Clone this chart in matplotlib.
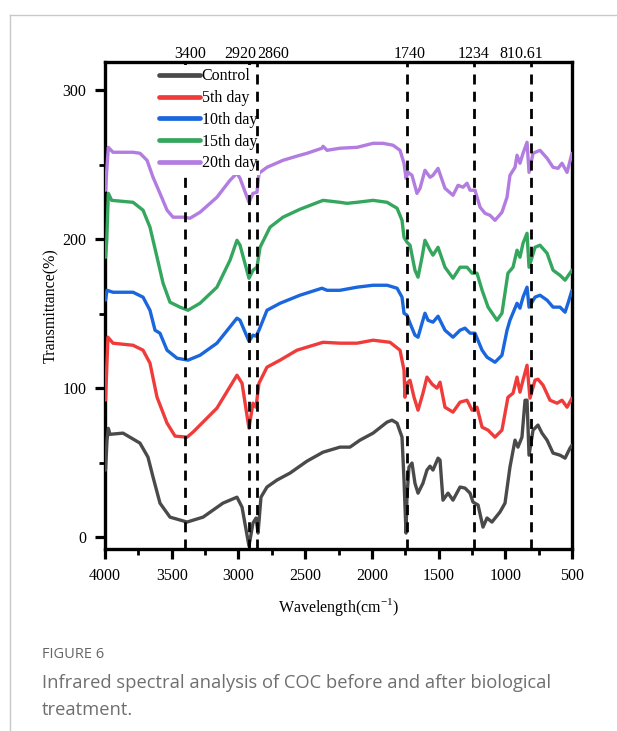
import matplotlib
matplotlib.use("Agg")
import matplotlib.pyplot as plt
from matplotlib.lines import Line2D
from matplotlib.ticker import MultipleLocator

# ---------------- data ----------------
control_w = [3996, 3985, 3975, 3963, 3865, 3738, 3678, 3640, 3588, 3513, 3385, 3265, 3116, 3011, 2973,
             2921, 2891, 2868, 2853, 2831, 2786, 2711, 2613, 2486, 2366, 2239, 2164, 2089, 1991, 1886,
             1849, 1811, 1774, 1759, 1744, 1737, 1722, 1699, 1677, 1654, 1617, 1587, 1564, 1542, 1504,
             1489, 1467, 1429, 1392, 1339, 1302, 1264, 1242, 1204, 1167, 1137, 1100, 1040, 1002, 965,
             927, 905, 875, 852, 837, 822, 792, 755, 725, 687, 642, 590, 552, 515, 500]
control_t = [45, 65, 73, 69, 69.8, 63.1, 53.7, 40.3, 22.8, 13.4, 10.1, 13.4, 22.8, 26.8, 20.1,
             -6, 9.4, 12.8, 2.7, 26.8, 33.6, 38.3, 43.0, 51.0, 57.0, 60.4, 60.4, 65.1, 69.8, 77.2,
             78.5, 76.5, 67.1, 38.3, 2.7, 26.8, 47.0, 49.7, 36.2, 29.5, 36.2, 45.0, 47.6, 45.0, 53.0,
             51.7, 24.8, 29.5, 24.8, 33.6, 32.9, 29.5, 23.5, 21.5, 6.7, 12.8, 10.1, 16.8, 22.8, 47.0,
             65.1, 60.4, 67.1, 91.9, 91.9, 55.0, 71.8, 75.2, 69.8, 65.1, 56.4, 55.0, 53.0, 59.7, 61.7]

day5_w = [3996, 3978, 3940, 3790, 3715, 3663, 3610, 3535, 3475, 3385, 3340, 3161, 3011, 2973, 2921,
          2891, 2868, 2846, 2786, 2688, 2561, 2366, 2239, 2111, 1991, 1864, 1789, 1759, 1752, 1737,
          1714, 1684, 1654, 1617, 1587, 1549, 1512, 1489, 1452, 1392, 1339, 1287, 1249, 1212, 1174,
          1129, 1077, 1025, 980, 942, 912, 890, 867, 837, 815, 777, 755, 717, 665, 612, 575, 537, 500]
day5_t = [92, 134.2, 130.2, 128.8, 125.5, 116.8, 93.9, 76.5, 67.8, 67.1, 70.5, 86.6, 108.7, 103.3, 73.1,
          89.9, 87.2, 103.3, 114.1, 118.8, 125.5, 130.8, 130.2, 130.2, 132.2, 130.8, 125.5, 112.1, 93.9, 103.3,
          105.3, 93.9, 85.2, 96.6, 107.4, 102.7, 100.0, 104.0, 87.2, 83.9, 90.6, 91.9, 85.2, 87.2, 73.8,
          71.8, 67.1, 71.8, 93.9, 96.6, 107.4, 97.3, 105.4, 115.4, 93.3, 105.4, 106.0, 102.0, 91.9, 89.9, 91.9, 87.2, 93.3]

day10_w = [3996, 3985, 3940, 3790, 3715, 3663, 3625, 3588, 3535, 3460, 3378, 3288, 3161, 3011, 2988,
           2921, 2891, 2868, 2846, 2786, 2688, 2539, 2374, 2336, 2239, 2111, 1991, 1886, 1811, 1774,
           1759, 1737, 1714, 1677, 1654, 1624, 1602, 1579, 1542, 1504, 1452, 1392, 1339, 1302, 1264,
           1227, 1174, 1137, 1077, 1025, 987, 965, 912, 890, 867, 837, 822, 777, 740, 687, 642, 590, 552, 530, 500]
day10_t = [159.1, 165.7, 164.4, 164.4, 161.1, 152.3, 138.9, 136.9, 125.5, 120.1, 118.8, 122.1, 130.2, 147.0, 145.6,
           131.5, 135.6, 134.9, 138.9, 152.3, 157.0, 162.4, 167.1, 165.7, 165.7, 167.8, 169.1, 169.1, 167.1, 161.1,
           150.3, 149.0, 143.6, 135.6, 134.2, 143.6, 150.3, 145.6, 144.3, 148.3, 138.9, 134.2, 138.9, 140.3, 136.9,
           136.9, 125.5, 120.8, 117.4, 122.1, 138.9, 145.6, 157.0, 153.7, 161.1, 167.8, 154.4, 161.1, 162.4, 159.1, 154.4, 154.4, 151.0, 157.0, 165.7]

day15_w = [3996, 3987, 3975, 3950, 3790, 3715, 3663, 3610, 3565, 3513, 3438, 3378, 3288, 3161, 3063,
           3011, 2988, 2921, 2891, 2861, 2838, 2763, 2666, 2539, 2366, 2239, 2186, 2111, 1991, 1886,
           1811, 1774, 1759, 1737, 1714, 1677, 1654, 1624, 1602, 1564, 1542, 1504, 1452, 1392, 1339,
           1287, 1249, 1212, 1174, 1129, 1062, 1025, 980, 942, 912, 890, 867, 837, 822, 777, 740, 687, 642, 590, 552, 500]
day15_t = [187.9, 199, 230.8, 226.1, 224.8, 219.5, 208.1, 187.9, 170.5, 157.7, 154.4, 152.3, 157.0, 167.8, 185.9,
           199.3, 196.0, 173.8, 179.2, 181.2, 194.6, 208.1, 214.8, 220.1, 226.1, 224.8, 224.1, 224.8, 226.1, 224.8,
           220.8, 212.7, 201.3, 198.0, 196.0, 179.2, 174.5, 187.9, 199.3, 192.6, 189.3, 194.6, 181.2, 173.8, 181.2,
           181.2, 177.2, 177.2, 165.8, 154.4, 145.6, 150.3, 177.2, 181.2, 192.6, 187.9, 197.3, 204.0, 181.2, 194.6, 196.0, 190.6, 179.2, 175.8, 172.5, 179.2]

day20_w = [3996, 3987, 3975, 3940, 3790, 3738, 3685, 3640, 3588, 3535, 3490, 3415, 3363, 3288, 3161,
           3063, 3011, 2988, 2921, 2891, 2861, 2846, 2786, 2666, 2539, 2486, 2374, 2366, 2336, 2239,
           2111, 1991, 1916, 1841, 1789, 1759, 1744, 1729, 1699, 1662, 1639, 1602, 1564, 1542, 1504,
           1452, 1392, 1354, 1317, 1287, 1264, 1227, 1189, 1152, 1115, 1077, 1025, 987, 965, 927,
           912, 890, 867, 837, 822, 792, 740, 687, 642, 605, 575, 537, 500]
day20_t = [232.9, 246, 261.7, 258.4, 258.4, 257.7, 253.0, 241.6, 230.8, 219.5, 214.8, 214.8, 214.1, 218.1, 228.2,
           239.6, 244.3, 240.9, 224.8, 230.8, 231.5, 244.3, 248.3, 253.0, 256.4, 257.7, 261.1, 262.4, 259.7, 261.1,
           261.7, 264.4, 264.4, 263.1, 259.7, 251.0, 240.9, 244.9, 242.9, 230.8, 234.2, 246.3, 241.6, 242.9, 247.6,
           234.2, 229.5, 236.2, 234.9, 237.6, 232.9, 232.9, 221.5, 217.4, 216.1, 212.7, 218.1, 228.2, 242.9, 248.3,
           256.4, 251.0, 257.7, 265.1, 244.9, 257.7, 259.7, 254.4, 248.3, 247.6, 251.0, 244.9, 257.7]

series_labels = ["Control", "5th day", "10th day", "15th day", "20th day"]
series_colors = ["#4a4a4a", "#f03b3b", "#1a66dc", "#35a65e", "#b27ce0"]

peak_positions = [3400, 2920, 2860, 1740, 1234, 810.61]
peak_labels = ["3400", "2920", "2860", "1740", "1234", "810.61"]
peak_label_x = [3363, 2988, 2741, 1714, 1234, 882]

xticks = [4000, 3500, 3000, 2500, 2000, 1500, 1000, 500]
yticks = [0, 100, 200, 300]

# ---------------- figure ----------------
serif = ["Liberation Serif", "DejaVu Serif"]
FS = 11.5
fig = plt.figure(figsize=(6.17, 7.31), dpi=100)
ax = fig.add_axes([105 / 617, 1 - 549 / 731, 467 / 617, 487 / 731])

all_w = [control_w, day5_w, day10_w, day15_w, day20_w]
all_t = [control_t, day5_t, day10_t, day15_t, day20_t]
for w, t, lab, col in zip(all_w, all_t, series_labels, series_colors):
    ax.plot(w, t, color=col, lw=2.4, label=lab, solid_joinstyle="round", solid_capstyle="round", zorder=3)

for p in peak_positions:
    z = 6 if p == 2860 else 4
    ax.axvline(p, color="black", lw=2.0, linestyle=(0, (3.6, 2.6)), zorder=z)

ax.set_xlim(4000, 500)
ax.set_ylim(-8, 319)
ax.set_xticks(xticks)
ax.set_yticks(yticks)
ax.xaxis.set_minor_locator(MultipleLocator(250))
ax.yaxis.set_minor_locator(MultipleLocator(50))
ax.tick_params(which="major", direction="out", length=7.5, width=2.3, labelsize=FS, pad=6)
ax.tick_params(which="minor", direction="out", length=4, width=2.0)
ax.tick_params(top=False, right=False)
for lab in ax.get_xticklabels() + ax.get_yticklabels():
    lab.set_fontfamily(serif)
for s in ax.spines.values():
    s.set_linewidth(2.4)

ax.set_xlabel("Wavelength(cm$^{\\mathregular{-1}}$)", fontsize=FS, family=serif, labelpad=9)
ax.set_ylabel("Transmittance(%)", fontsize=FS, family=serif, labelpad=2)

for lx, lt in zip(peak_label_x, peak_labels):
    ax.text(lx, 1.0, lt, transform=ax.get_xaxis_transform(), ha="center", va="bottom",
            fontsize=FS, family=serif)

leg = ax.legend(loc="upper left", bbox_to_anchor=(0.103, 1.0), frameon=True, framealpha=1,
                edgecolor="none", facecolor="white", fancybox=False,
                prop={"family": serif, "size": FS}, handlelength=2.55, handletextpad=0.1,
                labelspacing=0.36, borderpad=0.2, borderaxespad=0.2)
leg.set_zorder(5)
for h in leg.get_lines():
    h.set_linewidth(3.4)

# card border and caption
fig.add_artist(Line2D([10 / 617, 1], [1 - 15 / 731, 1 - 15 / 731], color="#c8c8c8", lw=1.0))
fig.add_artist(Line2D([10 / 617, 10 / 617], [0, 1 - 15 / 731], color="#c8c8c8", lw=1.0))
fig.text(42 / 617, 1 - 655 / 731, "FIGURE 6", fontsize=10.5, color="#666666",
         family=["Open Sans", "DejaVu Sans"], va="center", ha="left")
fig.text(42 / 617, 1 - 683 / 731, "Infrared spectral analysis of COC before and after biological",
         fontsize=13.2, color="#6f6f6f", family=["Open Sans", "DejaVu Sans"], va="center", ha="left")
fig.text(42 / 617, 1 - 710 / 731, "treatment.",
         fontsize=13.2, color="#6f6f6f", family=["Open Sans", "DejaVu Sans"], va="center", ha="left")

fig.savefig("out.png", dpi=100)
